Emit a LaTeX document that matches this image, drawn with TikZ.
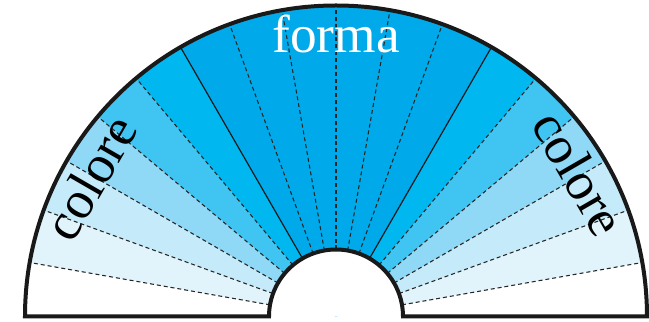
\documentclass[tikz,border=0pt]{standalone}
\usepackage{fontspec}
\setmainfont{Liberation Serif}
\usepackage{tikz}
\definecolor{ringA}{HTML}{E1F4FC}
\definecolor{ringB}{HTML}{C5EAF9}
\definecolor{ringC}{HTML}{8FD8F6}
\definecolor{ringD}{HTML}{40C5F3}
\definecolor{ringE}{HTML}{00B7F0}
\definecolor{ringF}{HTML}{00A9EA}

\begin{document}
\begin{tikzpicture}[x=0.75pt,y=0.75pt,
  rim/.style={line width=3pt,black!90},
  ray/.style={line width=0.8pt,black!85,dash pattern=on 3pt off 2.2pt},
  split/.style={line width=0.9pt,black!90},
  lbl/.style={font=\fontsize{40}{44}\selectfont,inner sep=0pt}]
  \useasboundingbox (-336,-4.5) rectangle (313,316.5);
  % Shaded slices, lighter toward both ends
  \foreach \a/\c in {10/ringA,20/ringB,30/ringC,40/ringD,50/ringE}{
    \fill[\c] (0,0) -- (\a:311) arc[start angle=\a,delta angle=10,radius=311] -- cycle;
    \fill[\c] (0,0) -- (180-\a:311) arc[start angle=180-\a,delta angle=-10,radius=311] -- cycle;
  }
  \fill[ringF] (0,0) -- (60:311) arc[start angle=60,end angle=120,radius=311] -- cycle;
  \fill[white] (-67,0) arc[start angle=180,end angle=0,radius=67] -- cycle;
  % Rays
  \foreach \a in {10,20,30,40,50,70,80,90,100,110,130,140,150,160,170}
    \draw[ray] (\a:67) -- (\a:311);
  \draw[split] (60:67) -- (60:311);
  \draw[split] (120:67) -- (120:311);
  % Outline of the half ring
  \draw[rim] (-311,0) arc[start angle=180,end angle=0,radius=311] -- (67,0)
    arc[start angle=0,end angle=180,radius=67] -- cycle;
  % Labels
  \node[lbl,white,anchor=mid] (forma) at (90:267) {forma};
  \node[lbl,anchor=mid,rotate=60] (coloreL) at (150.5:267) {colore};
  \node[lbl,anchor=mid,rotate=-60] (coloreR) at (30.5:267) {colore};
\end{tikzpicture}
\end{document}
